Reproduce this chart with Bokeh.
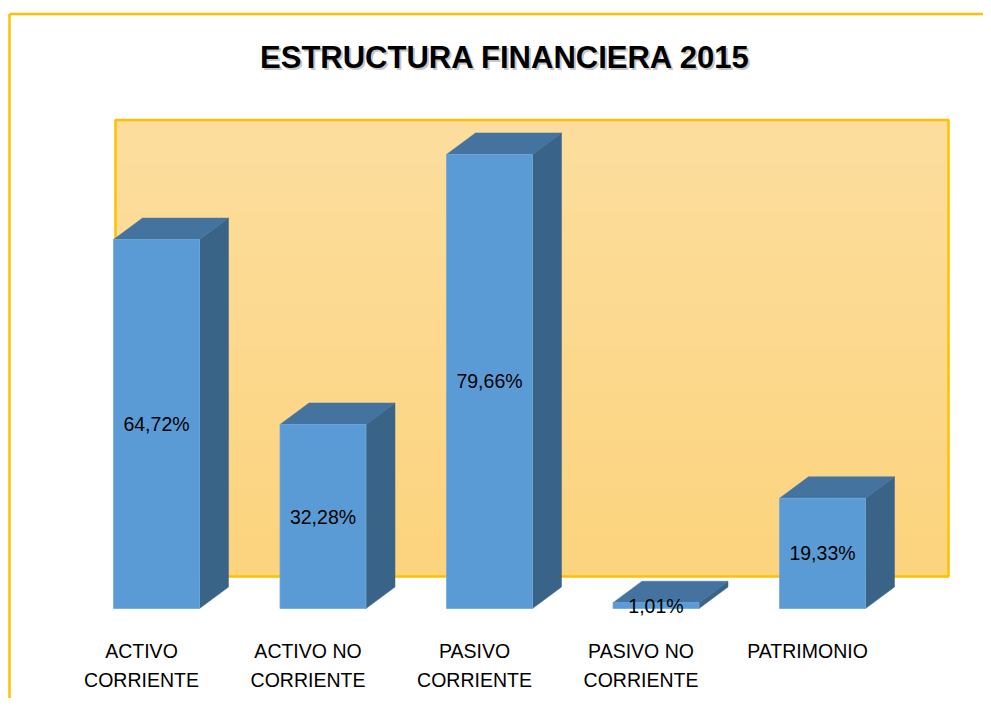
import numpy as np
from bokeh.plotting import figure
from bokeh.models import Range1d
from bokeh.core.properties import value
from bokeh.embed import file_html
from bokeh.resources import INLINE

# ---------------- data ----------------
title_text = "ESTRUCTURA FINANCIERA 2015"
categories_line1 = ["ACTIVO", "ACTIVO NO", "PASIVO", "PASIVO NO", "PATRIMONIO"]
categories_line2 = ["CORRIENTE", "CORRIENTE", "CORRIENTE", "CORRIENTE", ""]
values = [64.72, 32.28, 79.66, 1.01, 19.33]
value_labels = ["64,72%", "32,28%", "79,66%", "1,01%", "19,33%"]

# ---------------- layout ----------------
W, H = 983, 698
PX_PER_CAT = 166.5      # horizontal pixels per category
PX_PER_PCT = 5.70       # vertical pixels per percentage point
X0_PX = 156             # pixel x of first bar centre
BASE_PX = 608           # pixel y of bar base

x_start = -X0_PX / PX_PER_CAT
x_end = x_start + W / PX_PER_CAT
y_end = BASE_PX / PX_PER_PCT
y_start = -(H - BASE_PX) / PX_PER_PCT


def dx(px):
    return px / PX_PER_CAT


def xpx(px):
    return x_start + px / PX_PER_CAT


def ypx(px):
    return (BASE_PX - px) / PX_PER_PCT


bar_w = dx(86)
depth_x = dx(29)
depth_y = 21.5 / PX_PER_PCT

FONT = value("Liberation Sans")
LABEL_SIZE = "19.5px"

p = figure(width=W, height=H, output_backend="svg", toolbar_location=None,
           x_range=Range1d(x_start, x_end), y_range=Range1d(y_start, y_end),
           min_border=0, tools="")
p.axis.visible = False
p.grid.visible = False
p.outline_line_color = None
p.background_fill_color = "white"
p.border_fill_color = "white"

# outer chart frame (top and left edges visible)
p.segment(x0=[xpx(9), xpx(9)], y0=[ypx(13.5), ypx(13.5)],
          x1=[xpx(9), xpx(W)], y1=[ypx(H), ypx(13.5)],
          line_color="#FFC000", line_width=2.5)

# back wall with vertical gradient
wl, wr, wt, wb = xpx(115), xpx(948), ypx(119.5), ypx(576)
n = 40
edges = np.linspace(wt, wb, n + 1)
c_top = np.array([0xFD, 0xDE, 0x9E])
c_bot = np.array([0xFC, 0xD4, 0x7E])
cols = []
for k in range(n):
    t = (k + 0.5) / n
    c = (c_top * (1 - t) + c_bot * t).astype(int)
    cols.append("#%02x%02x%02x" % tuple(c))
p.quad(left=[wl] * n, right=[wr] * n, top=edges[:-1], bottom=edges[1:],
       fill_color=cols, line_color=cols, line_width=1.2)
p.quad(left=[wl], right=[wr], top=[wt], bottom=[wb], fill_color=None,
       line_color="#FFC000", line_width=2.5)

# bars (pseudo 3D)
xs = list(range(len(values)))
front_l = [x - bar_w / 2 for x in xs]
front_r = [x + bar_w / 2 for x in xs]

top_xs, top_ys, side_xs, side_ys = [], [], [], []
for xl, xr, v in zip(front_l, front_r, values):
    top_xs.append([xl, xl + depth_x, xr + depth_x, xr])
    top_ys.append([v, v + depth_y, v + depth_y, v])
    side_xs.append([xr, xr + depth_x, xr + depth_x, xr])
    side_ys.append([0, depth_y, v + depth_y, v])

p.patches(xs=side_xs, ys=side_ys, fill_color="#3A6487", line_color="#3A6487",
          line_width=0.5)
p.patches(xs=top_xs, ys=top_ys, fill_color="#44739F", line_color="#44739F",
          line_width=0.5)
p.quad(left=front_l, right=front_r, bottom=[0] * len(values), top=values,
       fill_color="#5B9BD5", line_color="#6FA8DC", line_width=0.8)

# value labels
p.text(x=xs, y=[v / 2 for v in values], text=value_labels,
       text_font=FONT, text_font_size=LABEL_SIZE, text_color="black",
       text_align="center", text_baseline="middle")

# category labels
lab_x = [x - dx(15) for x in xs]
p.text(x=lab_x, y=[ypx(650)] * len(xs), text=categories_line1,
       text_font=FONT, text_font_size=LABEL_SIZE, text_color="black",
       text_align="center", text_baseline="middle")
p.text(x=lab_x, y=[ypx(679)] * len(xs), text=categories_line2,
       text_font=FONT, text_font_size=LABEL_SIZE, text_color="black",
       text_align="center", text_baseline="middle")

# title with soft shadow
tx, ty = xpx(505), ypx(57)
p.text(x=[tx], y=[ty], text=[title_text], text_font=FONT,
       text_font_size="31px", text_font_style="bold", text_color="#7f7f7f",
       text_alpha=0.45, text_align="center", text_baseline="middle",
       x_offset=2, y_offset=2)
p.text(x=[tx], y=[ty], text=[title_text], text_font=FONT,
       text_font_size="31px", text_font_style="bold", text_color="black",
       text_align="center", text_baseline="middle")

open("out.html", "w").write(file_html(p, INLINE))
